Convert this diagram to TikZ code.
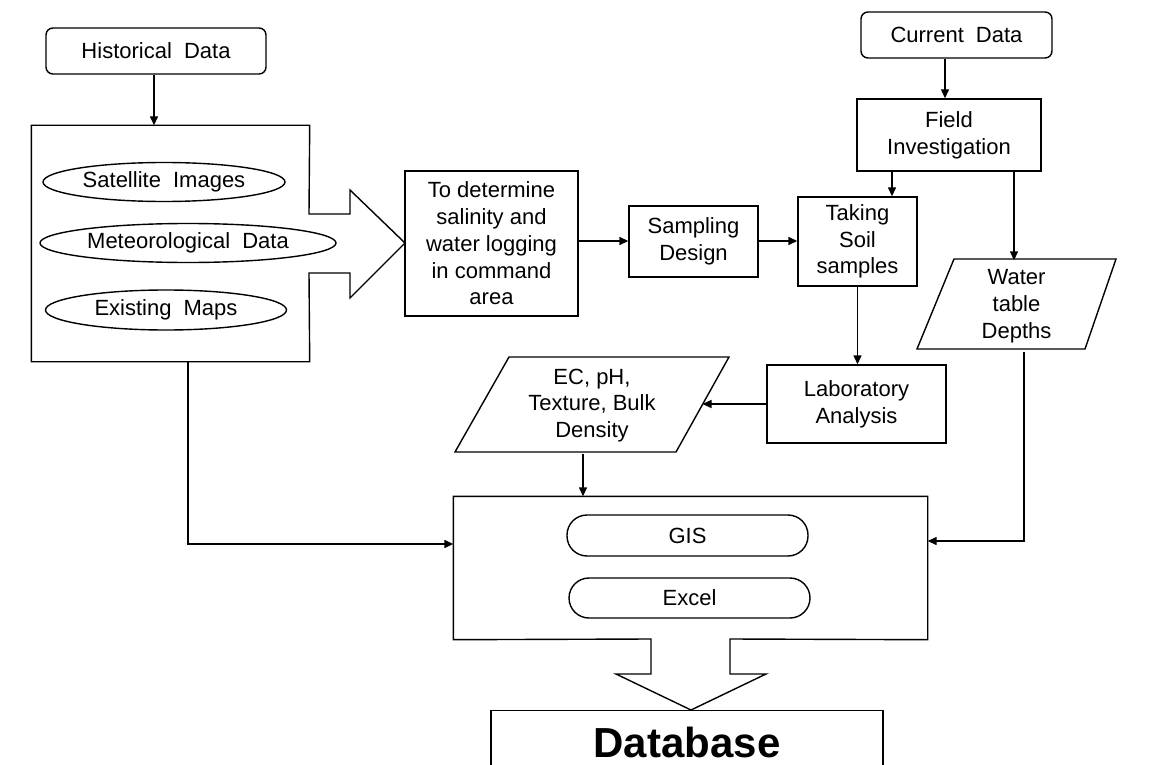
\documentclass[tikz,border=0pt]{standalone}
\usepackage{fontspec}
\setmainfont{Liberation Sans}
\usetikzlibrary{arrows.meta,shapes.geometric}
\newcommand\mywidesp{\spaceskip=0.55em plus 0.1em\relax}
\begin{document}
\begin{tikzpicture}[x=0.5pt,y=-0.5pt, line width=0.7pt,
  font=\fontsize{11}{13.4}\selectfont,
  sz/.style 2 args={minimum width=#1*0.5pt,minimum height=#2*0.5pt},
  box/.style={draw, rectangle, align=center, inner sep=0pt},
  rbox/.style={draw, rectangle, rounded corners=3.5pt, align=center, inner sep=0pt},
  plain/.style={rectangle, align=center, inner sep=0pt},
  oval/.style={draw, ellipse, inner sep=0pt},
  pill/.style={draw, rectangle, rounded corners=10pt, inner sep=0pt},
  arr/.style={-{Triangle[length=4.5pt,width=4pt]}}]
\useasboundingbox (0,0) rectangle (1157,765);
\clip (0,0) rectangle (1157,765);

% top-left
\node[rbox, sz={220}{46}] (hist) at (156,51) {\mywidesp Historical Data};
\node[plain, sz={277}{235}] (big) at (170.5,243.5) {};
\draw (309,214) -- (big.north east) -- (big.north west) -- (big.south west)
  -- (big.south east) -- (309,273) -- (350,273) -- (350,298) -- (405,243)
  -- (350,190) -- (350,214) -- cycle;
\node[oval, sz={242}{39}] (sat) at (164,182) {\mywidesp Satellite Images};
\node[oval, sz={296}{39}] (met) at (188,243) {\mywidesp Meteorological Data};
\node[oval, sz={241}{40}] (exist) at (166,310) {\mywidesp Existing Maps};
\draw[arr] (hist.south -| 154,0) -- (big.north -| 154,0);

% middle row
\node[box, sz={173}{145}] (det) at (491.5,243.5) {To determine\\salinity and\\water logging\\in command\\area};
\node[box, sz={129}{71}] (samp) at (693.5,241.5) {Sampling\\Design};
\node[box, sz={119}{89}] (take) at (857.5,241.5) {Taking\\Soil\\samples};
\draw[arr] (det.east |- 0,241) -- (samp.west |- 0,241);
\draw[arr] (samp.east |- 0,241) -- (take.west |- 0,241);

% top right
\node[rbox, sz={191}{46}] (cur) at (956.5,35) {\mywidesp Current Data};
\node[box, sz={184}{72}] (field) at (949,135) {Field\\Investigation};
\draw[arr] (cur.south -| 945,0) -- (field.north -| 945,0);
\draw[arr] (field.south -| 892,0) -- (take.north -| 892,0);

\node[plain, sz={162}{90}] (water) at (1016.5,306) {Water\\table\\Depths};
\draw (954,259) -- (1116,259) -- (1085,349) -- (917,349) -- cycle;
\draw[arr] (field.south -| 1014,0) -- (water.north -| 1014,0);

% lab + EC
\node[box, sz={179}{78}] (lab) at (856.5,404) {Laboratory\\Analysis};
\draw[arr] (take.south) -- (take.south |- lab.north);
\node[plain, sz={220}{95}] (ec) at (592,405.5) {EC, pH,\\Texture, Bulk\\Density};
\draw (509,357) -- (729,357) -- (676,452) -- (455,452) -- cycle;
\coordinate (ecr) at (702.5,404);
\draw[arr] (lab.west) -- (ecr);

% GIS box
\node[plain, sz={473}{142}] (db) at (690.5,568) {};
\draw (651,639) -- (db.south west) -- (db.north west) -- (db.north east)
  -- (db.south east) -- (730,639) -- (730,674) -- (766,674) -- (691,710)
  -- (616,674) -- (651,674) -- cycle;
\node[pill, sz={241}{41}] (gis) at (687.5,535.5) {GIS};
\node[pill, sz={241}{40}] (excel) at (689.5,598) {Excel};
\draw[arr] (ec.south -| 583,0) -- (db.north -| 583,0);
\draw[arr] (big.south -| 188,0) |- (db.west |- 0,544);
\draw[arr] (water.south -| 1024,0) |- (db.east |- 0,541);

% database
\node[draw, rectangle, sz={392}{120}, anchor=north] (dbbox) at (687,710) {};
\node[font=\bfseries\fontsize{21}{25}\selectfont, inner sep=0pt] (dbtext) at (687,742) {Database};
\end{tikzpicture}
\end{document}
